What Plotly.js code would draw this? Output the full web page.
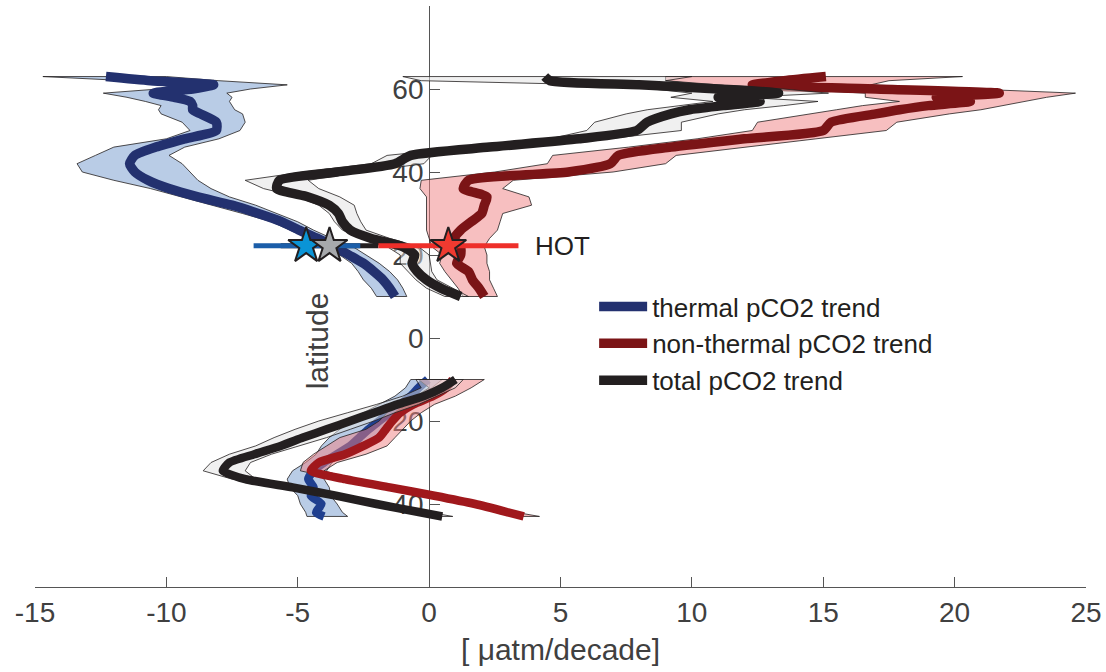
<!DOCTYPE html>
<html>
<head>
<meta charset="utf-8">
<script src="https://cdn.plot.ly/plotly-3.0.1.min.js"></script>
<style>html,body{margin:0;padding:0;background:#fff;}#chart{width:1106px;height:672px;}</style>
</head>
<body>
<div id="chart"></div>
<script>
// ---- Northern hemisphere profiles (latitude, trend in uatm/decade) ----
const latNH = [63,62,61,60,59,58,57,56,55,54,52,50,48,46,44,42,40,38,36,34,32,30,28,26,24,22,20,18,16,14,12,10];
const thermalNH   = [-12.3,-10.6,-8.2,-9.0,-10.5,-9.7,-9.1,-9.0,-9.0,-8.7,-8.1,-8.1,-9.3,-10.4,-11.2,-11.4,-11.2,-10.7,-9.9,-8.8,-7.5,-6.5,-5.6,-4.95,-4.25,-3.6,-3.05,-2.5,-2.1,-1.75,-1.5,-1.3];
const thermalNHlo = [-14.7,-11.5,-9.5,-10.3,-12.4,-11.5,-10.8,-10.2,-10.3,-10.2,-9.4,-9.1,-10.0,-12.0,-12.7,-13.4,-13.2,-12.0,-10.6,-9.4,-8.2,-7.1,-6.0,-5.3,-4.6,-3.9,-3.4,-2.95,-2.7,-2.5,-2.2,-2.0];
const thermalNHhi = [-10.0,-8.0,-5.4,-6.8,-7.7,-7.5,-7.6,-7.5,-7.4,-7.1,-7.0,-7.2,-8.0,-9.3,-9.9,-9.4,-9.1,-8.8,-8.3,-7.6,-6.6,-5.8,-5.0,-4.4,-3.7,-2.9,-2.4,-1.9,-1.5,-1.2,-1.0,-0.85];
const nonthermalNH   = [15.1,13.5,12.3,17.0,21.7,19.3,20.6,19.0,17.9,17.0,15.3,15.0,12.0,9.2,7.2,6.9,5.3,1.5,1.3,2.2,2.1,2.0,1.6,1.2,0.95,1.2,1.2,1.05,1.5,1.65,1.9,2.1];
const nonthermalNHlo = [9.0,9.0,11.0,13.5,16.6,16.6,17.9,16.5,15.5,14.5,12.5,12.3,10.2,7.6,4.7,4.5,2.5,-0.3,-0.35,-0.1,-0.1,-0.1,-0.1,-0.1,0.0,0.1,0.5,0.4,0.6,0.85,1.1,1.3];
const nonthermalNHhi = [20.3,17.5,16.8,21.0,24.6,23.5,22.7,21.8,21.0,19.8,17.8,17.4,14.6,12.0,9.4,9.0,7.0,3.2,2.8,3.8,3.9,2.8,2.7,2.6,2.3,2.1,2.2,2.2,2.3,2.3,2.45,2.6];
const totalNH   = [4.4,4.6,8.0,11.0,13.3,11.0,12.6,11.2,9.9,9.2,8.3,7.9,5.7,2.3,-0.7,-1.3,-3.5,-5.7,-5.8,-4.6,-3.8,-3.45,-3.3,-3.0,-2.2,-1.0,-0.55,-0.65,-0.45,-0.1,0.45,1.2];
const totalNHlo = [-1.0,-0.3,6.5,8.5,10.0,9.2,10.8,9.5,8.3,7.5,6.3,6.0,4.6,1.5,-1.6,-2.2,-4.8,-7.0,-6.3,-5.0,-4.2,-3.8,-3.6,-3.3,-2.6,-1.6,-1.1,-1.1,-0.8,-0.5,-0.1,0.6];
const totalNHhi = [10.0,9.0,10.5,13.5,15.2,12.0,14.8,13.5,12.0,11.0,9.6,9.6,6.8,3.5,0.1,-0.2,-2.6,-4.6,-4.2,-3.4,-2.85,-2.75,-2.6,-2.4,-1.5,-0.4,0.0,0.05,0.1,0.3,0.9,1.5];

// ---- Southern hemisphere profiles ----
const latSH = [-10,-12,-14,-16,-18,-20,-22,-24,-26,-28,-30,-32,-34,-36,-38,-40,-42,-43];
const thermalSH   = [-0.05,-0.4,-0.7,-1.1,-1.5,-1.9,-2.3,-2.65,-3.0,-3.5,-4.0,-4.4,-4.6,-4.4,-4.5,-4.1,-4.3,-4.0];
const thermalSHlo = [-0.7,-0.9,-1.3,-1.9,-2.5,-3.0,-3.4,-3.8,-4.1,-4.3,-4.7,-5.2,-5.4,-5.3,-5.0,-4.9,-4.7,-4.65];
const thermalSHhi = [0.5,0.1,-0.4,-0.8,-1.0,-1.3,-1.8,-2.1,-2.5,-3.1,-3.7,-3.9,-4.0,-3.8,-3.75,-3.5,-3.3,-3.1];
const nonthermalSH   = [0.9,0.65,0.15,-0.6,-1.1,-1.4,-1.65,-1.9,-2.5,-3.2,-4.2,-4.5,-3.2,-1.5,0.2,1.75,3.0,3.6];
const nonthermalSHlo = [-0.4,0.0,-0.5,-1.2,-1.6,-1.9,-2.4,-3.4,-3.9,-4.4,-4.8,-4.9,-3.5,-1.7,0.0,1.55,2.8,3.4];
const nonthermalSHhi = [2.1,1.6,1.0,0.2,-0.3,-0.7,-1.0,-1.3,-1.6,-2.4,-3.5,-4.0,-2.9,-1.3,0.4,1.95,3.3,4.2];
const totalSH   = [1.0,0.5,-0.2,-1.2,-2.1,-3.0,-3.9,-4.8,-5.65,-6.65,-7.6,-7.85,-7.0,-5.2,-3.55,-2.0,-0.35,0.5];
const totalSHlo = [-0.5,-0.3,-1.0,-2.0,-3.1,-4.2,-5.1,-5.9,-6.6,-7.6,-8.3,-8.6,-7.5,-5.4,-3.9,-2.3,-0.7,0.3];
const totalSHhi = [1.3,1.0,0.3,-0.4,-1.3,-2.1,-3.0,-3.9,-4.9,-6.0,-6.8,-7.0,-6.6,-4.8,-3.3,-1.7,0.0,0.9];

// ---- HOT station estimates ----
const hotLat = 22.2;
const hotThermal = -4.68, hotThermalRange = [-6.68, -2.62];
const hotTotal = -3.79, hotTotalRange = [-5.65, -1.93];
const hotNonthermal = 0.73, hotNonthermalRange = [-1.93, 3.40];

// ---- axis ticks ----
const xTickVals = [-15,-10,-5,0,5,10,15,20,25];
const xTickText = ['-15','-10','-5','0','5','10','15','20','25'];
const yTickVals = [-60,-40,-20,0,20,40,60,80];
const yTickText = ['','40','20','0','20','40','60',''];

const FONT = 'Liberation Sans, Arial, Helvetica, sans-serif';
const OUT = '#231f20';

function band(lat, lo, hi, fill) {
  const x = lo.concat(hi.slice().reverse()); x.push(lo[0]);
  const y = lat.concat(lat.slice().reverse()); y.push(lat[0]);
  return {x: x, y: y, type: 'scatter', mode: 'lines', fill: 'toself', fillcolor: fill,
          line: {color: OUT, width: 0.8}, showlegend: false, hoverinfo: 'skip'};
}
function prof(lat, v, color, name, show, w) {
  return {x: v, y: lat, type: 'scatter', mode: 'lines', name: name,
          line: {color: color, width: w, shape: 'spline', smoothing: 0.6}, showlegend: show, hoverinfo: 'skip'};
}
function hbar(range, color) {
  return {x: range, y: [hotLat, hotLat], type: 'scatter', mode: 'lines',
          line: {color: color, width: 5}, showlegend: false, hoverinfo: 'skip'};
}
function star(v, color) {
  return {x: [v], y: [hotLat], type: 'scatter', mode: 'markers',
          marker: {symbol: 'star', size: 27, color: color, line: {color: OUT, width: 2}},
          showlegend: false, hoverinfo: 'skip'};
}

const BLUE_F = 'rgba(115,153,205,0.5)', RED_F = 'rgba(239,127,129,0.5)', GREY_F = 'rgba(225,225,225,0.5)';

const traces = [
  band(latNH, thermalNHlo, thermalNHhi, BLUE_F),
  prof(latNH, thermalNH, '#23316f', 'thermal pCO2 trend', true, 9.5),
  band(latNH, nonthermalNHlo, nonthermalNHhi, RED_F),
  prof(latNH, nonthermalNH, '#7b1416', 'non-thermal pCO2 trend', true, 9.5),
  band(latNH, totalNHlo, totalNHhi, GREY_F),
  prof(latNH, totalNH, OUT, 'total pCO2 trend', true, 9.5),

  band(latSH, thermalSHlo, thermalSHhi, BLUE_F),
  prof(latSH, thermalSH, '#1f3f8f', 'thermal SH', false, 8.5),
  band(latSH, nonthermalSHlo, nonthermalSHhi, RED_F),
  prof(latSH, nonthermalSH, '#a0181c', 'non-thermal SH', false, 8.5),
  band(latSH, totalSHlo, totalSHhi, GREY_F),
  prof(latSH, totalSH, OUT, 'total SH', false, 8.5),

  hbar(hotTotalRange, OUT),
  hbar(hotThermalRange, '#1b5ea9'),
  hbar(hotNonthermalRange, '#ee2f2a'),
  star(hotThermal, '#0a94d6'),
  star(hotTotal, '#a7a9ac'),
  star(hotNonthermal, '#ef3a30')
];

const layout = {
  width: 1106, height: 672,
  margin: {l: 35, r: 20, t: 6, b: 85},
  paper_bgcolor: '#fff', plot_bgcolor: '#fff',
  font: {family: FONT, color: '#404040'},
  xaxis: {
    range: [-15, 25], tickvals: xTickVals, ticktext: xTickText, ticks: 'inside', ticklen: 10, tickcolor: '#555',
    showline: true, linecolor: '#555', linewidth: 1, showgrid: false, zeroline: false,
    tickfont: {family: FONT, size: 28, color: '#404040'},
    title: {text: '[ \u03bcatm/decade]', font: {family: FONT, size: 30, color: '#404040'}, standoff: 12},
    layer: 'below traces', fixedrange: true
  },
  yaxis: {
    range: [-60, 80], anchor: 'free', position: 0.375,
    tickvals: yTickVals, ticktext: yTickText, ticks: 'inside', ticklen: 10, tickcolor: '#555',
    showline: true, linecolor: '#555', linewidth: 1, showgrid: false, zeroline: false,
    tickfont: {family: FONT, size: 28, color: '#404040'},
    layer: 'below traces', fixedrange: true
  },
  showlegend: true,
  legend: {
    x: 0.532, y: 0.523, xanchor: 'left', yanchor: 'top',
    bgcolor: 'rgba(0,0,0,0)', font: {family: FONT, size: 26, color: OUT},
    traceorder: 'normal', tracegroupgap: 0, itemwidth: 48
  },
  annotations: [
    {x: 3.95, y: hotLat, xref: 'x', yref: 'y', xanchor: 'left', yanchor: 'middle',
     text: 'HOT', showarrow: false, font: {family: FONT, size: 26, color: OUT}},
    {x: -4.25, y: -0.7, xref: 'x', yref: 'y', xanchor: 'center', yanchor: 'middle', textangle: -90,
     text: 'latitude', showarrow: false, font: {family: FONT, size: 30, color: '#404040'}}
  ]
};

Plotly.newPlot('chart', traces, layout, {displayModeBar: false, staticPlot: true});
</script>
</body>
</html>
